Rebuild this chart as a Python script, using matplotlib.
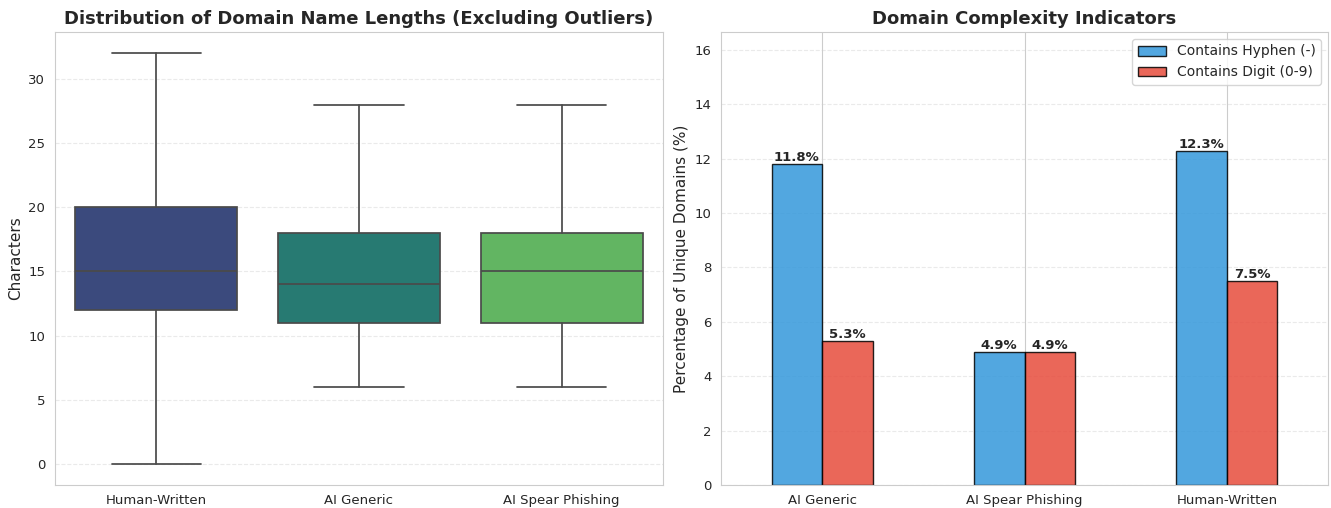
import matplotlib.pyplot as plt
import numpy as np
import seaborn as sns

sns.set_style('whitegrid')

# box stats (outliers excluded): whisker low, q1, median, q3, whisker high
box_groups = ['Human-Written', 'AI Generic', 'AI Spear Phishing']
whisk_lo = [0, 6, 6]
q1 = [12, 11, 11]
medians = [15, 14, 15]
q3 = [20, 18, 18]
whisk_hi = [32, 28, 28]
box_colors = ['#3b4a7d', '#277a72', '#62b562']

bar_groups = ['AI Generic', 'AI Spear Phishing', 'Human-Written']
hyphen_pct = [11.8, 4.9, 12.3]
digit_pct = [5.3, 4.9, 7.5]

W, H = 1331, 508
fig = plt.figure(figsize=(W / 100, H / 100), dpi=100)
ax1 = fig.add_axes([55 / W, 23 / H, 608 / W, 453 / H])
ax2 = fig.add_axes([721 / W, 23 / H, 607 / W, 453 / H])

# left: box plot
stats = []
for i in range(len(box_groups)):
    stats.append({'whislo': whisk_lo[i], 'q1': q1[i], 'med': medians[i],
                  'q3': q3[i], 'whishi': whisk_hi[i], 'fliers': []})
line_kw = dict(color='#4a4a4a', linewidth=1.25)
bp = ax1.bxp(stats, positions=range(3), widths=0.8, patch_artist=True,
             showfliers=False, capwidths=0.44,
             boxprops=dict(edgecolor='#4a4a4a', linewidth=1.25),
             medianprops=line_kw, whiskerprops=line_kw, capprops=line_kw)
for patch, c in zip(bp['boxes'], box_colors):
    patch.set_facecolor(c)
ax1.set_xticks(range(3))
ax1.set_xticklabels(box_groups)
ax1.set_xlim(-0.5, 2.5)
ax1.set_ylim(-1.64, 33.66)
ax1.grid(False)
ax1.grid(axis='y', linestyle='--', alpha=0.4)
ax1.set_title('Distribution of Domain Name Lengths (Excluding Outliers)',
              fontsize=13, fontweight='bold')
ax1.set_ylabel('Characters', fontsize=11)

# right: grouped bars
x = np.arange(len(bar_groups))
w = 0.25
b1 = ax2.bar(x - w / 2, hyphen_pct, w, color='#3498db', alpha=0.85,
             edgecolor='black', linewidth=1, label='Contains Hyphen (-)')
b2 = ax2.bar(x + w / 2, digit_pct, w, color='#e74c3c', alpha=0.85,
             edgecolor='black', linewidth=1, label='Contains Digit (0-9)')
for bars in (b1, b2):
    ax2.bar_label(bars, fmt='%.1f%%', fontsize=9.5, fontweight='bold', padding=0)
ax2.set_xticks(x)
ax2.set_xticklabels(bar_groups)
ax2.set_xlim(-0.5, 2.5)
ax2.set_ylim(0, 16.66)
ax2.grid(axis='y', linestyle='--', alpha=0.4)
ax2.set_axisbelow(True)
ax2.set_title('Domain Complexity Indicators', fontsize=13, fontweight='bold')
ax2.set_ylabel('Percentage of Unique Domains (%)', fontsize=11)
ax2.legend(loc='upper right', fontsize=10)

for ax in (ax1, ax2):
    ax.tick_params(axis='x', labelsize=9.5, pad=3)
    ax.tick_params(axis='y', labelsize=9.5)

plt.savefig('out.png')
